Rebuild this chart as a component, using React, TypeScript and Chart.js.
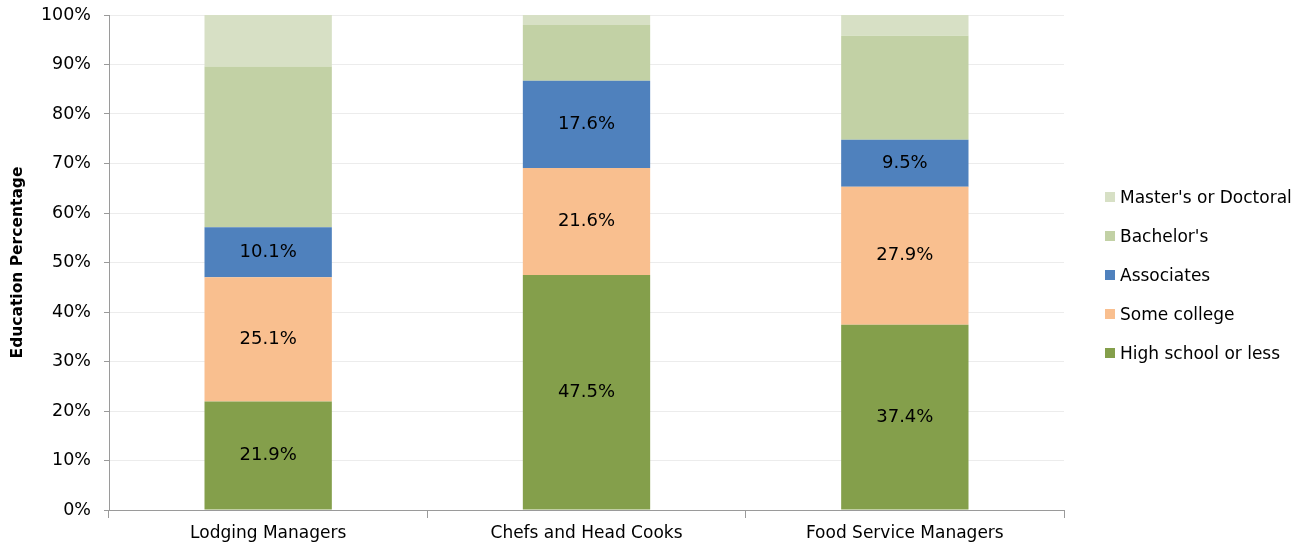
import React, { useEffect, useRef } from "react";
import { Chart, registerables } from "chart.js";

Chart.register(...registerables);

const categories = ["Lodging Managers", "Chefs and Head Cooks", "Food Service Managers"];
const seriesNames = ["High school or less", "Some college", "Associates", "Bachelor's", "Master's or Doctoral"];
const highSchool = [21.9, 47.5, 37.4];
const someCollege = [25.1, 21.6, 27.9];
const associates = [10.1, 17.6, 9.5];
const bachelors = [32.5, 11.3, 21.0];
const masters = [10.4, 2.0, 4.2];
const seriesColors = ["#849F4B", "#F9BF8F", "#4F81BD", "#C2D1A5", "#D7E0C5"];
const labeledSeries = [0, 1, 2];
const yTicks = [0, 10, 20, 30, 40, 50, 60, 70, 80, 90, 100];

const FONT = "'DejaVu Sans', sans-serif";

export default function App() {
  const ref = useRef<HTMLCanvasElement | null>(null);

  useEffect(() => {
    if (!ref.current) return;
    const values = [highSchool, someCollege, associates, bachelors, masters];
    const labelPlugin = {
      id: "barLabels",
      afterDatasetsDraw(chart: any) {
        const ctx = chart.ctx;
        ctx.save();
        ctx.font = `18px ${FONT}`;
        ctx.fillStyle = "#000";
        ctx.textAlign = "center";
        ctx.textBaseline = "middle";
        labeledSeries.forEach((di) => {
          const meta = chart.getDatasetMeta(di);
          meta.data.forEach((el: any, i: number) => {
            const v = chart.data.datasets[di].data[i];
            ctx.fillText(v.toFixed(1) + "%", el.x, (el.y + el.base) / 2);
          });
        });
        ctx.restore();
      },
    };
    const chart = new Chart(ref.current, {
      type: "bar",
      data: {
        labels: categories,
        datasets: seriesNames.map((name, i) => ({
          label: name,
          data: values[i],
          backgroundColor: seriesColors[i],
          borderWidth: 0,
          barPercentage: 0.4,
          categoryPercentage: 1,
        })),
      },
      options: {
        responsive: false,
        devicePixelRatio: 1,
        animation: false,
        layout: { padding: { top: 15, right: 240, left: 0, bottom: 0 } },
        plugins: {
          legend: { display: false },
          tooltip: { enabled: false },
        },
        scales: {
          x: {
            stacked: true,
            grid: {
              drawOnChartArea: false,
              drawTicks: true,
              tickLength: 8,
              tickColor: "#9a9a9a",
              offset: true,
            },
            border: { color: "#9a9a9a", width: 1 },
            ticks: { color: "#000", font: { family: FONT, size: 17 }, padding: 5 },
            afterFit: (s: any) => {
              s.height = 35;
              s.paddingLeft = 0;
              s.paddingRight = 0;
            },
          },
          y: {
            stacked: true,
            min: 0,
            max: 100,
            afterBuildTicks: (s: any) => { s.ticks = yTicks.map((v) => ({ value: v })); },
            grid: { color: "#ececec", tickColor: "#9a9a9a", tickLength: 5 },
            border: { color: "#9a9a9a", width: 1 },
            ticks: {
              color: "#000",
              font: { family: FONT, size: 17.5 },
              padding: 13,
              callback: (v: any) => v + "%",
            },
            title: {
              display: true,
              text: "Education Percentage",
              color: "#000",
              font: { family: FONT, size: 15.5, weight: "bold" },
              padding: { top: 9, bottom: 0 },
            },
            afterFit: (s: any) => {
              s.width = 109;
              s.paddingTop = 0;
              s.paddingBottom = 0;
            },
          },
        },
      },
      plugins: [labelPlugin],
    });
    return () => chart.destroy();
  }, []);

  const legendItems = seriesNames.map((n, i) => ({ name: n, color: seriesColors[i] })).reverse();

  return (
    <div style={{ position: "fixed", left: 0, top: 0, width: 1304, height: 545, background: "#fff" }}>
      <canvas ref={ref} width={1304} height={545} style={{ display: "block" }} />
      <div style={{ position: "absolute", left: 1105, top: 177, fontFamily: FONT, fontSize: 17, color: "#000" }}>
        {legendItems.map((it) => (
          <div key={it.name} style={{ display: "flex", alignItems: "center", height: 39 }}>
            <span style={{ display: "inline-block", width: 10, height: 10, background: it.color, marginRight: 5, flex: "none" }} />
            <span style={{ whiteSpace: "nowrap", lineHeight: "20px" }}>{it.name}</span>
          </div>
        ))}
      </div>
    </div>
  );
}
